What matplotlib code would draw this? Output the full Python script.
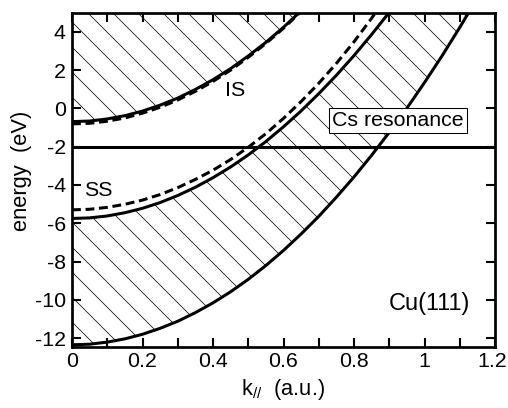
import numpy as np
import matplotlib
matplotlib.use('Agg')
import matplotlib.pyplot as plt
from matplotlib.ticker import MultipleLocator, FuncFormatter

plt.rcParams['font.family'] = ['Liberation Sans', 'DejaVu Sans']
plt.rcParams['mathtext.default'] = 'regular'
plt.rcParams['axes.unicode_minus'] = False
plt.rcParams['hatch.linewidth'] = 0.7
plt.rcParams['lines.scale_dashes'] = False

# k_par (a.u.) sample points
k = [0.0, 0.05, 0.1, 0.15, 0.2, 0.25, 0.3, 0.35, 0.4, 0.45, 0.5, 0.55,
     0.6, 0.65, 0.7, 0.75, 0.8, 0.85, 0.9, 0.95, 1.0, 1.05, 1.1, 1.15]

# upper gap edge (bulk continuum above) and image state
e_gap_top = [-0.69, -0.66, -0.55, -0.38, -0.14, 0.17, 0.54, 0.99, 1.50,
             2.08, 2.74, 3.45, 4.24, 5.10]
e_is = [-0.81, -0.78, -0.67, -0.50, -0.25, 0.06, 0.44, 0.89, 1.41,
        2.00, 2.67, 3.39, 4.19, 5.06]

# lower gap edge (top of lower bulk band) and surface state
e_gap_bot = [-5.75, -5.72, -5.62, -5.45, -5.22, -4.92, -4.55, -4.12, -3.62,
             -3.06, -2.43, -1.73, -0.96, -0.13, 0.77, 1.73, 2.76, 3.86, 5.02]
e_ss = [-5.30, -5.27, -5.17, -5.01, -4.79, -4.50, -4.14, -3.71, -3.23,
        -2.67, -2.03, -1.32, -0.52, 0.36, 1.31, 2.35, 3.48, 4.71, 6.04]

# bottom of the sp band
e_band_bot = [-12.35, -12.32, -12.21, -12.04, -11.80, -11.49, -11.12, -10.67,
              -10.16, -9.58, -8.93, -8.21, -7.42, -6.56, -5.64, -4.64, -3.58,
              -2.45, -1.25, 0.01, 1.35, 2.75, 4.23, 5.77]

e_cs = -2.0
k_max = 1.2

W, H, DPI = 508, 408, 75
fig = plt.figure(figsize=(W / DPI, H / DPI), dpi=DPI)
ax = fig.add_axes([72 / W, 1 - 346.7 / H, 423 / W, 334 / H])

k_up = k[:len(e_gap_top)]
k_lo = k[:len(e_gap_bot)]

# hatched bulk continua
ax.fill_between(k_up, e_gap_top, 6.0, facecolor='none', edgecolor='black',
                hatch='\\', linewidth=0, zorder=1)
poly_x = list(k) + k_lo[::-1]
poly_y = list(e_band_bot) + e_gap_bot[::-1]
ax.fill(poly_x, poly_y, facecolor='none', edgecolor='black', hatch='\\',
        linewidth=0, zorder=1)

lw = 2.9
ax.plot(k_up, e_gap_top, color='black', lw=lw, zorder=3)
ax.plot(k[:len(e_is)], e_is, color='black', lw=lw, ls=(0, (8.5, 4.5)), zorder=3)
ax.plot(k_lo, e_gap_bot, color='black', lw=lw, zorder=3)
ax.plot(k[:len(e_ss)], e_ss, color='black', lw=lw, ls=(0, (8.5, 4.5)), zorder=3)
ax.plot(k, e_band_bot, color='black', lw=lw, zorder=3)
ax.axhline(e_cs, color='black', lw=lw, zorder=3)

fs = 21
tfs = 20.5
ax.text(0.464, 0.93, 'IS', fontsize=20.5, ha='center', va='center', zorder=5)
ax.text(0.035, -4.3, 'SS', fontsize=20.5, ha='left', va='center', zorder=5)
ax.text(0.925, -0.64, 'Cs resonance', fontsize=20.5, ha='center', va='center',
        zorder=6, bbox=dict(boxstyle='square,pad=0.15', fc='white', ec='black', lw=1))
ax.text(1.13, -10.2, 'Cu(111)', fontsize=22.5, ha='right', va='center', zorder=5)

ax.set_xlim(0, k_max)
ax.set_ylim(-12.45, 5)
ax.xaxis.set_major_locator(MultipleLocator(0.2))
ax.xaxis.set_minor_locator(MultipleLocator(0.1))
# the last label is drawn separately, nudged so it stays on the canvas
ax.xaxis.set_major_formatter(FuncFormatter(
    lambda v, pos: '' if abs(v - k_max) < 1e-6 else '%g' % v))
ax.yaxis.set_major_locator(MultipleLocator(2))
ax.tick_params(which='both', direction='in', top=True, right=True,
               length=9, width=2.0, labelsize=tfs)
ax.tick_params(axis='x', which='major', pad=5)
ax.tick_params(axis='y', which='major', pad=6)
for s in ax.spines.values():
    s.set_linewidth(2.6)
ax.annotate('%g' % k_max, xy=(k_max, 0), xycoords=ax.get_xaxis_transform(),
            xytext=(-3, -5), textcoords='offset points', ha='center', va='top',
            fontsize=tfs, annotation_clip=False)

ax.set_xlabel('k$_{//}$  (a.u.)', fontsize=fs)
ax.set_ylabel('energy  (eV)', fontsize=fs)
ax.xaxis.set_label_coords(0.5, -0.09)
ax.yaxis.set_label_coords(-0.095, 0.525)

fig.savefig('out.png', dpi=DPI)
